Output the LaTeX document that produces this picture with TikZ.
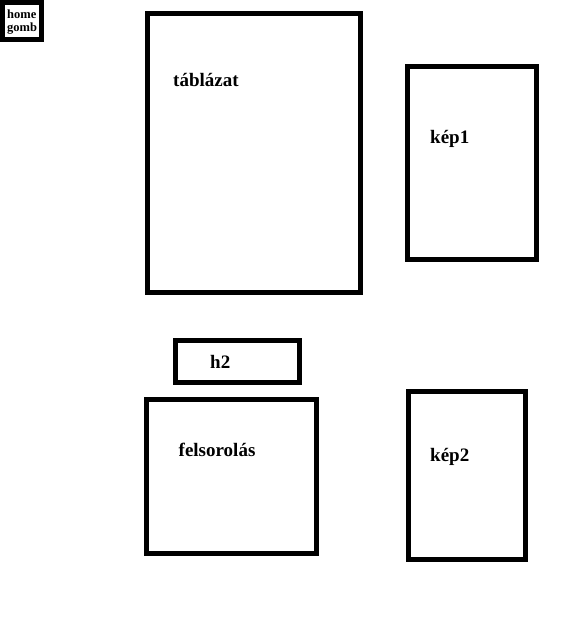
\documentclass[tikz,border=0pt]{standalone}
\usepackage{fontspec}
\setmainfont{Liberation Serif}
\usetikzlibrary{positioning}

\begin{document}
\begin{tikzpicture}[x=1pt, y=-1pt,
        doboz/.style={rectangle, draw=black, line width=5pt, fill=white, inner sep=0pt, outer sep=0pt},
        felirat/.style={inner sep=0pt, anchor=base west, font=\fontsize{19}{22}\selectfont\bfseries}
    ]
        \useasboundingbox (0,0) rectangle (566,619);
        % dobozok
        \node[doboz, minimum width=39pt, minimum height=37pt] (home) at (21.5,21) {};
        \node[doboz, minimum width=213.5pt, minimum height=278.5pt] (tablazat) at (253.75,152.75) {};
        \node[doboz, minimum width=129pt, minimum height=192.7pt] (kep1) at (472,162.85) {};
        \node[doboz, minimum width=123.4pt, minimum height=42.5pt] (h2) at (237.5,361.25) {};
        \node[doboz, minimum width=170pt, minimum height=153.3pt] (felsorolas) at (231,476.35) {};
        \node[doboz, minimum width=117pt, minimum height=168.7pt] (kep2) at (467,475.35) {};

        % feliratok
        \node[inner sep=0pt, anchor=north west, align=left,
              font=\fontsize{12.5}{13}\selectfont\bfseries] (homefelirat) at (7,9.5) {home\\gomb};
        \node[felirat] (tablazatfelirat) at (173,86) {táblázat};
        \node[felirat] (kep1felirat) at (430,143.3) {kép1};
        \node[felirat] (h2felirat) at (210,368.3) {h2};
        \node[felirat] (felsorolasfelirat) at (178.5,456.7) {felsorolás};
        \node[felirat] (kep2felirat) at (430,461.7) {kép2};
    \end{tikzpicture}
\end{document}
